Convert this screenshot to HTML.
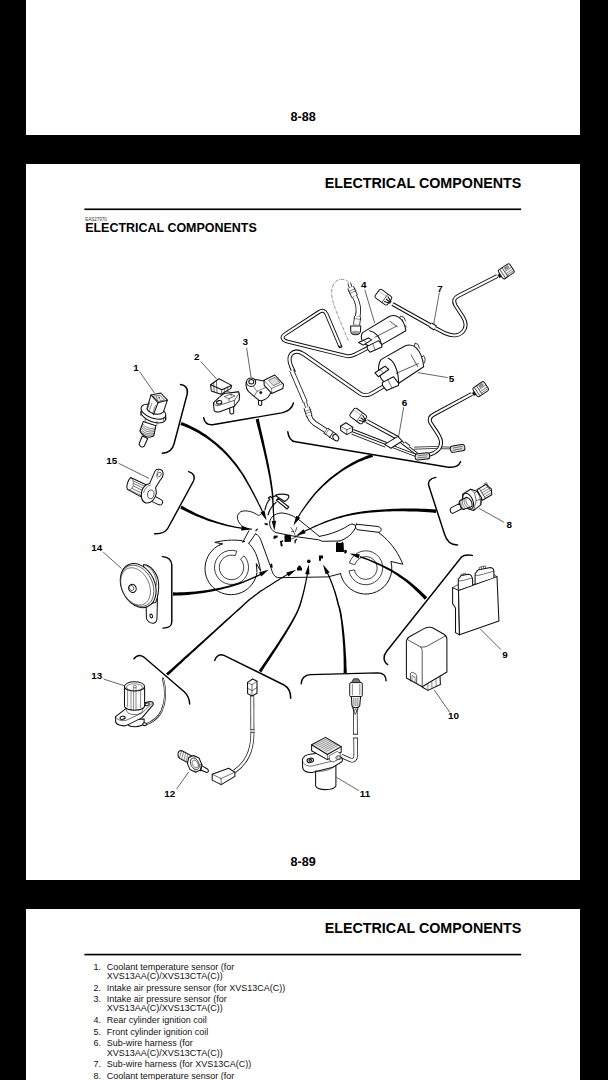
<!DOCTYPE html>
<html><head><meta charset="utf-8">
<style>
html,body{margin:0;padding:0;background:#000;}
body{width:608px;height:1080px;overflow:hidden;position:relative;font-family:"Liberation Sans",sans-serif;color:#000;}
.page{position:absolute;left:26px;width:554px;background:#fff;}
.t{position:absolute;white-space:nowrap;line-height:1;}
.hdr{font-weight:bold;font-size:14.3px;right:58.6px;}
.rule{position:absolute;left:58.4px;width:436.6px;height:1.8px;background:#000;}
.pn{font-weight:bold;font-size:12.6px;left:264.6px;}
.li{position:absolute;left:67.5px;font-size:9px;line-height:9.3px;white-space:nowrap;color:#111;}
.li b{position:absolute;left:0;font-weight:normal;}
.li span{position:absolute;left:13.3px;}
svg{position:absolute;left:0;top:0;}
.lb{font-family:"Liberation Sans",sans-serif;font-weight:bold;font-size:9.9px;fill:#000;text-anchor:middle;}
</style></head><body>
<div class="page" style="top:-582px;height:717px;">
  <div class="t pn" style="top:692.6px;">8-88</div>
</div>
<div class="page" style="top:163.5px;height:716.5px;">
  <div class="t hdr" style="top:12.6px;">ELECTRICAL COMPONENTS</div>
  <div class="t" style="left:59.2px;top:54px;font-size:4.5px;color:#333;">EAS27970</div>
  <div class="t" style="left:59.2px;top:58.5px;font-size:12.48px;font-weight:bold;">ELECTRICAL COMPONENTS</div>
  <div class="t pn" style="top:692.2px;">8-89</div>
</div>
<div class="page" style="top:908.8px;height:717px;">
  <div class="t hdr" style="top:12.6px;">ELECTRICAL COMPONENTS</div>
  <div class="li" style="top:53.8px;"><b>1.</b><span>Coolant temperature sensor (for<br>XVS13AA(C)/XVS13CTA(C))</span></div>
  <div class="li" style="top:75.3px;"><b>2.</b><span>Intake air pressure sensor (for XVS13CA(C))</span></div>
  <div class="li" style="top:86.4px;"><b>3.</b><span>Intake air pressure sensor (for<br>XVS13AA(C)/XVS13CTA(C))</span></div>
  <div class="li" style="top:107.3px;"><b>4.</b><span>Rear cylinder ignition coil</span></div>
  <div class="li" style="top:119.3px;"><b>5.</b><span>Front cylinder ignition coil</span></div>
  <div class="li" style="top:130.5px;"><b>6.</b><span>Sub-wire harness (for<br>XVS13AA(C)/XVS13CTA(C))</span></div>
  <div class="li" style="top:151.5px;"><b>7.</b><span>Sub-wire harness (for XVS13CA(C))</span></div>
  <div class="li" style="top:163.1px;"><b>8.</b><span>Coolant temperature sensor (for</span></div>
</div>
<svg width="608" height="1080" viewBox="0 0 608 1080">
<rect x="84.4" y="208.45" width="436.7" height="1.65" fill="#000"/>
<rect x="84.4" y="953.75" width="436.7" height="1.65" fill="#000"/>
<path d="M180.6,384.5 C185,385 188.5,388 187.2,394 L174,444 C172.5,450 169,453 162.3,453.2" fill="none" stroke="#000" stroke-width="1.45" stroke-linecap="round"/>
<path d="M203.7,417.8 C204.5,422.5 207,425 212.6,424.7 L281.7,412.9 C288,411.5 292,408.5 293.5,403" fill="none" stroke="#000" stroke-width="1.45" stroke-linecap="round"/>
<path d="M287.8,431.8 C288.5,437.5 290.5,441 295.5,441.8 L447,467 C454,468 458.5,467 460.5,461.8" fill="none" stroke="#000" stroke-width="1.45" stroke-linecap="round"/>
<path d="M435.8,477.4 C430,478.5 427.5,481.5 428.9,486 L444.5,534 C446.5,541 450,545 457.5,544.9" fill="none" stroke="#000" stroke-width="1.45" stroke-linecap="round"/>
<path d="M472.3,555.4 C467,554.5 464,554.5 461.5,557 L386.7,651.3 C383,656 383,661.5 387.7,664.7" fill="none" stroke="#000" stroke-width="1.45" stroke-linecap="round"/>
<path d="M301.2,683.7 C301.5,677.5 304.5,675 310.7,674.6 L377.8,672.9 C383.5,673 386,676 386,680.7" fill="none" stroke="#000" stroke-width="1.45" stroke-linecap="round"/>
<path d="M214.7,660.4 C216,656 219.5,653.5 224,655.3 L284,685 C288.5,687.5 290.7,692 290.7,698.3" fill="none" stroke="#000" stroke-width="1.45" stroke-linecap="round"/>
<path d="M133.9,658.7 C136.5,655.5 140,654.5 143.5,656.8 L184.5,692 C188,695.5 189.6,699 189.6,704.1" fill="none" stroke="#000" stroke-width="1.45" stroke-linecap="round"/>
<path d="M162.4,556.6 C168.5,557 171.5,559.5 171.8,565 L171.8,622 C171.5,626.5 169,628 163,628.1" fill="none" stroke="#000" stroke-width="1.45" stroke-linecap="round"/>
<path d="M188.7,471.6 C193,473 195.5,476 193.5,481 L168,528 C165.5,532.5 161,534 154.7,533.7" fill="none" stroke="#000" stroke-width="1.45" stroke-linecap="round"/>
<path d="M219.5,545 A26.2,26.2 0 1 0 257,572.5 L256.3,563.5 L260.6,571" fill="none" stroke="#111" stroke-width="1.0" stroke-linejoin="round" stroke-linecap="round" />
<path d="M244.4,556.1 A17.1,17.1 0 1 1 236.7,551.1 L235.3,555.7 A12.3,12.3 0 1 0 240.8,559.3Z" fill="#fff" stroke="#111" stroke-width="0.8" stroke-linejoin="round" stroke-linecap="round" />
<path d="M244.6,541.4 C238,539.4 226,539.6 214.8,542.4 L222.8,543.9 L219.3,545.1 M248.8,543.5 C254,548 258,556 260.6,571" fill="none" stroke="#111" stroke-width="1.0" stroke-linejoin="round" stroke-linecap="round" />
<path d="M248.8,530.9 L242.9,542 M255.5,533.8 L248.8,543.5 M242.9,542 L244.6,541.4" fill="none" stroke="#111" stroke-width="1.0" stroke-linejoin="round" stroke-linecap="round" />
<path d="M251.8,529.2 C246,528.6 241.5,526.6 239.4,523 C236.4,518.4 236.6,514.6 240.7,511.8 C244,510 250.6,511 255,513.4 C257,514.6 258.4,515.6 259.4,515.2 C261,514.4 262.4,513 263.4,511.6" fill="none" stroke="#111" stroke-width="1.0" stroke-linejoin="round" stroke-linecap="round" />
<path d="M255.5,533.8 C258.5,535 260,537.5 261,540.5 L271.2,568.4 C272.6,573 274,577.5 279,577.7 L328,576.9 L340.6,573.6" fill="none" stroke="#111" stroke-width="1.0" stroke-linejoin="round" stroke-linecap="round" />
<path d="M265,509.6 C266,505 267.6,501.4 269.8,499.4 L268.4,498 L270.4,496.4 L271.8,497.8 C272.6,497 274,496.4 275,496.2" fill="none" stroke="#111" stroke-width="1.25" stroke-linejoin="round" stroke-linecap="round" />
<path d="M275.4,495.4 C279,493.6 285,493.6 288.6,495.4 C289.6,497 287.6,500 284.6,501.4 L278.4,497.4Z" fill="none" stroke="#111" stroke-width="1.2" stroke-linejoin="round" stroke-linecap="round" />
<path d="M276.4,500.4 L287.2,509 L288.8,507 L278,498.4Z" fill="none" stroke="#111" stroke-width="1.2" stroke-linejoin="round" stroke-linecap="round" />
<path d="M268,515 C269.5,509.5 272.5,505 276,502.6" fill="none" stroke="#111" stroke-width="1.2" stroke-linejoin="round" stroke-linecap="round" />
<path d="M269.7,522 C270.4,517 274.5,513.6 281,513 C288,513 294.5,516.4 300,520.6 L319.4,536.4 M269.7,522 C269.2,526.4 271.4,530.6 276,532.6 L297,536.8 L318.6,539.8 L322.2,541.3 L339.8,541 " fill="none" stroke="#111" stroke-width="1.0" stroke-linejoin="round" stroke-linecap="round" />
<path d="M319.4,536.4 C328,535 338,531.5 345,527.6 C348,525.6 350.4,524.2 352,524 L355.3,525 C355.8,527 355.2,528.6 354.2,530 C351,535 346,539 339.8,541" fill="none" stroke="#111" stroke-width="1.0" stroke-linejoin="round" stroke-linecap="round" />
<path d="M356.4,524.2 L377,526.4 C380.4,527 381.6,528.4 381,530.4 C380.6,531.6 379.6,532.3 378.4,532.3 L358,529.8 C356.4,529.4 355.6,528.4 355.6,527 C355.6,525.6 355.8,524.6 356.4,524.2Z" fill="none" stroke="#111" stroke-width="1.0" stroke-linejoin="round" stroke-linecap="round" />
<path d="M378.4,532.3 C385,537 391,543.6 395.4,550 C398.4,554.6 401,559.6 402.8,564.3 L390.9,561.4 A25.9,25.9 0 0 1 344.4,582.6 C342.4,579.6 341.2,576.6 340.6,573.6" fill="none" stroke="#111" stroke-width="1.0" stroke-linejoin="round" stroke-linecap="round" />
<path d="M349.5,562.6 A17.0,17.0 0 1 1 349.0,570.9 L354.5,569.9 A11.4,11.4 0 1 0 354.9,564.4Z" fill="#fff" stroke="#111" stroke-width="0.8" stroke-linejoin="round" stroke-linecap="round" />
<path d="M336,543 L337.4,541.6 L338.2,543 L341.4,543 L342.2,541.6 L343.6,543 L344,552 L336,552Z" fill="#000"/>
<path d="M344.2,550.2 C345.6,549.2 347,550 346.9,551.6 C346.9,553.4 345.4,554 344.3,553.2Z" fill="#000"/>
<path d="M284.4,535.2 L290.8,534.8 L291,541.8 L284.6,542Z" fill="#000"/>
<path d="M273.6,535.8 L277.6,535.6 L277.6,537.8 L275.6,537.8 L275.4,539 L273.6,538.8Z" fill="#000"/>
<path d="M264.6,523 L268,523.4 L267.4,525.4 L264.4,524.2Z" fill="#000"/>
<path d="M280,541 L283,540.2 L283.4,541.6 L281.8,542 L282.8,546 L280.8,546.4Z" fill="#000"/>
<path d="M294.4,540.4 L296.6,538.6 L297.2,539.6 L295.8,541 L295.6,543.4 L294.6,543.2Z" fill="#000"/>
<path d="M319,555.6 L323,555.6 L323,558.4 L321,558.4 L321,560.8 L319,560.8Z" fill="#000"/>
<path d="M297,567.6 L298.2,567.6 L298.2,565.8 L300.8,565.8 L300.8,567.6 L302,567.6 L302,570.6 L297,570.6Z" fill="#000"/>
<path d="M270.2,564 L272,563.6 L272.8,567.6 L271.2,567.8Z" fill="#000"/>
<path d="M255.2,530.2 L257.6,528.2 L257.8,529.6 L256,531.4Z" fill="#000"/>
<circle cx="308.8" cy="561.4" r="1.8" fill="#000"/>
<path d="M291,527.6 L293.6,531.4 L295.2,535.6 M296.8,527.4 L295.4,531.6 M293.6,531.4 L291.4,531.8 M288.2,539.4 L293,538.6 L296,536.6 L299,535.4" fill="none" stroke="#111" stroke-width="0.7" stroke-linejoin="round" stroke-linecap="round" />
<path d="M180.4,425.0 L183.4,426.0 L186.4,427.2 L189.4,428.5 L192.4,429.9 L195.4,431.5 L198.4,433.1 L201.3,434.9 L204.3,436.8 L207.2,438.7 L210.1,440.8 L212.9,443.0 L215.8,445.3 L218.5,447.7 L221.3,450.2 L224.0,452.8 L226.6,455.5 L229.2,458.3 L231.7,461.2 L234.2,464.2 L236.6,467.2 L238.9,470.4 L241.1,473.6 L243.3,477.0 L245.3,480.4 L246.3,482.1 L247.3,483.9 L248.3,485.6 L249.3,487.3 L250.2,489.1 L251.2,490.8 L252.1,492.5 L253.0,494.3 L254.0,496.0 L254.9,497.7 L255.8,499.4 L256.6,501.1 L257.5,502.8 L258.3,504.5 L259.2,506.2 L260.0,507.8 L260.8,509.5 L261.6,511.2 L262.4,512.8 L263.4,512.3 L262.7,510.7 L261.9,509.0 L261.1,507.3 L260.3,505.6 L259.4,503.9 L258.6,502.2 L257.8,500.5 L256.9,498.8 L256.0,497.1 L255.2,495.4 L254.3,493.6 L253.4,491.9 L252.4,490.1 L251.5,488.4 L250.6,486.6 L249.6,484.9 L248.6,483.1 L247.7,481.4 L246.7,479.6 L244.7,476.1 L242.5,472.7 L240.3,469.4 L238.0,466.1 L235.7,463.0 L233.2,459.9 L230.7,457.0 L228.1,454.1 L225.5,451.3 L222.8,448.6 L220.0,446.1 L217.2,443.6 L214.4,441.2 L211.5,438.9 L208.6,436.7 L205.7,434.6 L202.7,432.7 L199.7,430.8 L196.7,429.1 L193.7,427.4 L190.6,425.9 L187.6,424.5 L184.6,423.2 L181.6,422.0Z" fill="#000"/>
<path d="M266.6,520.6 L260.4,512.4 L264.5,510.6Z" fill="#000"/>
<path d="M255.6,419.4 L256.3,422.0 L257.0,424.8 L257.7,427.6 L258.5,430.5 L259.2,433.5 L260.0,436.5 L260.7,439.6 L261.5,442.8 L262.3,446.0 L263.1,449.2 L263.9,452.5 L264.6,455.7 L265.4,459.1 L266.1,462.4 L266.8,465.7 L267.5,469.0 L268.2,472.4 L268.9,475.7 L269.5,479.0 L270.0,482.3 L270.5,485.5 L271.0,488.8 L271.5,491.9 L271.8,495.1 L271.9,496.5 L272.0,498.0 L272.1,499.5 L272.2,501.0 L272.3,502.5 L272.3,504.0 L272.4,505.5 L272.5,507.0 L272.6,508.5 L272.7,509.9 L272.8,511.4 L272.9,512.9 L273.0,514.4 L273.0,515.9 L273.1,517.4 L273.2,518.9 L273.3,520.4 L273.4,521.9 L274.5,521.8 L274.5,520.3 L274.4,518.8 L274.3,517.3 L274.3,515.9 L274.2,514.4 L274.1,512.9 L274.1,511.4 L274.0,509.9 L273.9,508.4 L273.9,506.9 L273.8,505.4 L273.8,503.9 L273.7,502.4 L273.6,500.9 L273.6,499.4 L273.5,497.9 L273.4,496.5 L273.4,494.9 L273.0,491.8 L272.7,488.5 L272.2,485.3 L271.8,482.0 L271.2,478.7 L270.7,475.4 L270.1,472.0 L269.5,468.7 L268.9,465.3 L268.2,461.9 L267.5,458.6 L266.8,455.3 L266.1,451.9 L265.4,448.7 L264.7,445.4 L264.0,442.2 L263.3,439.0 L262.6,435.9 L261.9,432.9 L261.2,429.9 L260.5,426.9 L259.9,424.1 L259.3,421.3 L258.8,418.6Z" fill="#000"/>
<path d="M274.4,530.8 L271.7,520.9 L276.1,520.7Z" fill="#000"/>
<path d="M372.0,454.0 L369.2,455.0 L366.3,456.0 L363.5,457.2 L360.6,458.5 L357.7,459.8 L354.8,461.3 L351.9,462.8 L349.1,464.5 L346.2,466.2 L343.4,468.0 L340.6,469.9 L337.9,471.9 L335.1,473.9 L332.5,476.0 L329.8,478.1 L327.3,480.3 L324.8,482.6 L322.3,484.9 L320.0,487.3 L317.7,489.7 L315.5,492.1 L313.4,494.6 L311.4,497.1 L309.4,499.6 L308.6,500.7 L307.7,501.8 L306.9,503.0 L306.1,504.1 L305.2,505.2 L304.4,506.4 L303.7,507.5 L302.9,508.6 L302.1,509.7 L301.4,510.8 L300.7,511.9 L299.9,513.0 L299.3,514.1 L298.6,515.2 L297.9,516.2 L297.3,517.3 L298.3,517.9 L298.9,516.8 L299.6,515.8 L300.2,514.7 L300.9,513.6 L301.6,512.6 L302.4,511.5 L303.1,510.4 L303.9,509.3 L304.7,508.2 L305.5,507.1 L306.3,506.0 L307.1,504.9 L308.0,503.8 L308.8,502.7 L309.7,501.5 L310.6,500.4 L312.5,498.0 L314.5,495.5 L316.6,493.1 L318.9,490.8 L321.1,488.4 L323.5,486.1 L326.0,483.9 L328.5,481.7 L331.0,479.6 L333.6,477.5 L336.3,475.5 L339.0,473.5 L341.8,471.6 L344.6,469.8 L347.4,468.1 L350.2,466.5 L353.0,464.9 L355.9,463.5 L358.8,462.1 L361.6,460.9 L364.5,459.7 L367.3,458.7 L370.1,457.8 L373.0,457.0Z" fill="#000"/>
<path d="M293.5,525.6 L296.2,515.7 L300.2,517.8Z" fill="#000"/>
<path d="M436.1,509.4 L432.2,509.2 L428.3,509.0 L424.4,508.8 L420.5,508.7 L416.5,508.6 L412.6,508.5 L408.7,508.5 L404.8,508.5 L401.0,508.6 L397.1,508.7 L393.3,508.8 L389.6,509.0 L385.9,509.2 L382.2,509.4 L378.6,509.7 L375.1,510.0 L371.6,510.3 L368.2,510.7 L364.9,511.1 L361.7,511.6 L358.6,512.1 L355.6,512.6 L352.6,513.1 L349.8,513.7 L347.3,514.3 L344.8,514.9 L342.4,515.6 L339.9,516.3 L337.5,517.0 L335.1,517.8 L332.8,518.6 L330.4,519.4 L328.1,520.2 L325.8,521.1 L323.5,522.0 L321.2,522.9 L319.0,523.9 L316.7,524.9 L314.5,525.8 L312.3,526.9 L310.2,527.9 L308.0,528.9 L305.9,530.0 L303.8,531.1 L304.3,532.1 L306.4,531.0 L308.6,530.0 L310.7,529.0 L312.9,528.0 L315.1,527.0 L317.3,526.1 L319.5,525.1 L321.7,524.2 L324.0,523.3 L326.3,522.5 L328.6,521.6 L330.9,520.8 L333.3,520.1 L335.6,519.3 L338.0,518.6 L340.4,517.9 L342.8,517.2 L345.3,516.6 L347.7,516.0 L350.2,515.5 L353.0,515.0 L355.9,514.5 L358.9,514.0 L362.0,513.6 L365.2,513.2 L368.5,512.8 L371.8,512.5 L375.3,512.2 L378.8,512.0 L382.4,511.8 L386.0,511.6 L389.7,511.4 L393.4,511.3 L397.2,511.3 L401.0,511.3 L404.8,511.3 L408.7,511.4 L412.5,511.5 L416.4,511.6 L420.3,511.8 L424.2,512.0 L428.1,512.3 L432.0,512.6 L435.9,513.0Z" fill="#000"/>
<path d="M295.8,536.0 L303.6,529.3 L305.7,533.3Z" fill="#000"/>
<path d="M427.3,597.2 L425.2,595.2 L423.1,593.2 L421.0,591.2 L418.8,589.2 L416.5,587.2 L414.2,585.2 L411.8,583.2 L409.3,581.2 L406.7,579.3 L404.1,577.4 L401.2,575.4 L398.3,573.5 L395.2,571.7 L392.0,569.8 L388.7,568.0 L385.1,566.2 L381.4,564.4 L377.5,562.7 L373.4,561.0 L369.1,559.3 L364.6,557.6 L359.9,556.0 L359.5,557.2 L364.2,558.9 L368.6,560.6 L372.8,562.4 L376.8,564.2 L380.6,566.0 L384.3,567.9 L387.7,569.7 L391.0,571.6 L394.1,573.5 L397.1,575.4 L399.9,577.4 L402.6,579.3 L405.2,581.3 L407.7,583.3 L410.1,585.3 L412.3,587.3 L414.6,589.4 L416.7,591.4 L418.8,593.5 L420.8,595.5 L422.8,597.6 L424.7,599.8Z" fill="#000"/>
<path d="M349.6,553.4 L359.8,554.2 L358.5,558.5Z" fill="#000"/>
<path d="M346.8,673.0 L346.6,668.9 L346.4,664.8 L346.3,660.8 L346.1,656.8 L345.8,652.9 L345.6,649.1 L345.3,645.4 L345.0,641.7 L344.7,638.2 L344.4,634.8 L344.0,631.5 L343.7,628.4 L343.3,625.4 L342.9,622.6 L342.5,619.9 L342.1,617.4 L341.8,615.1 L341.4,612.9 L341.0,611.0 L340.6,609.3 L340.2,607.8 L339.8,606.5 L339.5,605.5 L339.1,604.8 L338.7,603.0 L338.2,601.1 L337.8,599.3 L337.3,597.5 L336.8,595.7 L336.2,593.9 L335.7,592.1 L335.1,590.4 L334.5,588.7 L333.9,587.0 L333.3,585.3 L332.6,583.6 L332.0,581.9 L331.3,580.2 L330.6,578.6 L329.9,577.0 L329.1,575.3 L328.4,573.7 L327.6,572.1 L326.6,572.6 L327.4,574.2 L328.1,575.8 L328.8,577.4 L329.5,579.1 L330.2,580.7 L330.8,582.4 L331.5,584.0 L332.1,585.7 L332.7,587.4 L333.2,589.1 L333.8,590.8 L334.3,592.6 L334.9,594.3 L335.4,596.1 L335.9,597.9 L336.3,599.7 L336.8,601.5 L337.2,603.3 L337.7,605.2 L338.0,606.0 L338.3,607.0 L338.7,608.2 L339.0,609.7 L339.3,611.3 L339.7,613.2 L340.1,615.4 L340.4,617.7 L340.8,620.1 L341.1,622.8 L341.4,625.6 L341.7,628.6 L342.0,631.7 L342.3,635.0 L342.6,638.4 L342.8,641.9 L343.1,645.5 L343.3,649.2 L343.4,653.0 L343.6,656.9 L343.6,660.9 L343.7,664.9 L343.7,668.9 L343.6,673.0Z" fill="#000"/>
<path d="M323.0,564.4 L329.6,572.2 L325.6,574.3Z" fill="#000"/>
<path d="M261.3,672.4 L263.4,669.0 L265.6,665.6 L267.8,662.3 L270.0,659.0 L272.1,655.7 L274.2,652.4 L276.3,649.2 L278.4,646.0 L280.4,642.8 L282.3,639.7 L284.2,636.7 L286.1,633.7 L287.8,630.8 L289.5,628.0 L291.1,625.2 L292.6,622.6 L294.0,620.0 L295.3,617.5 L296.5,615.2 L297.6,612.9 L298.6,610.8 L299.4,608.8 L300.1,607.0 L300.7,605.2 L301.2,603.6 L301.7,601.9 L302.1,600.3 L302.6,598.6 L303.0,596.9 L303.5,595.3 L303.9,593.6 L304.3,591.9 L304.7,590.2 L305.1,588.5 L305.5,586.8 L305.8,585.1 L306.2,583.3 L306.5,581.6 L306.9,579.9 L307.2,578.2 L307.5,576.5 L307.8,574.7 L308.1,573.0 L307.0,572.8 L306.7,574.6 L306.4,576.3 L306.0,578.0 L305.7,579.7 L305.4,581.4 L305.0,583.1 L304.6,584.8 L304.2,586.5 L303.9,588.2 L303.4,589.9 L303.0,591.6 L302.6,593.2 L302.2,594.9 L301.7,596.6 L301.3,598.2 L300.8,599.9 L300.3,601.5 L299.8,603.2 L299.3,604.8 L298.7,606.4 L298.0,608.2 L297.2,610.2 L296.2,612.3 L295.1,614.5 L293.9,616.8 L292.5,619.2 L291.1,621.7 L289.6,624.3 L287.9,627.0 L286.2,629.8 L284.4,632.7 L282.6,635.6 L280.6,638.6 L278.6,641.7 L276.6,644.8 L274.5,647.9 L272.3,651.1 L270.1,654.3 L267.9,657.6 L265.7,660.8 L263.4,664.1 L261.1,667.4 L258.7,670.6Z" fill="#000"/>
<path d="M308.8,564.4 L309.5,574.6 L305.1,574.0Z" fill="#000"/>
<path d="M168.0,675.6 L171.3,672.4 L174.7,669.2 L178.1,666.1 L181.5,662.9 L184.8,659.8 L188.2,656.7 L191.6,653.6 L195.0,650.4 L198.4,647.3 L201.8,644.2 L205.2,641.1 L208.6,637.9 L212.0,634.8 L215.4,631.7 L218.8,628.6 L222.2,625.5 L225.6,622.3 L229.0,619.2 L232.4,616.1 L235.8,613.0 L239.2,609.9 L242.7,606.7 L246.1,603.6 L249.5,600.5 L249.9,600.2 L250.3,599.8 L250.8,599.5 L251.2,599.1 L251.7,598.8 L252.2,598.4 L252.6,598.1 L253.1,597.7 L253.5,597.4 L254.0,597.0 L254.4,596.7 L254.9,596.3 L255.4,596.0 L255.8,595.6 L256.3,595.3 L256.7,594.9 L257.2,594.6 L257.6,594.2 L258.1,593.9 L258.6,593.5 L259.0,593.2 L259.5,592.8 L259.9,592.5 L260.4,592.1 L261.8,591.2 L263.3,590.2 L264.8,589.3 L266.3,588.3 L267.8,587.3 L269.3,586.4 L270.8,585.4 L272.3,584.4 L273.8,583.5 L275.3,582.5 L276.8,581.6 L278.3,580.7 L279.8,579.7 L281.3,578.8 L282.8,577.9 L284.3,577.0 L285.8,576.1 L287.3,575.2 L288.9,574.3 L288.3,573.4 L286.8,574.3 L285.3,575.2 L283.8,576.1 L282.3,576.9 L280.8,577.9 L279.2,578.8 L277.7,579.7 L276.2,580.6 L274.7,581.6 L273.2,582.5 L271.7,583.5 L270.2,584.4 L268.7,585.4 L267.2,586.3 L265.7,587.3 L264.2,588.2 L262.7,589.2 L261.2,590.1 L259.6,591.1 L259.2,591.4 L258.7,591.8 L258.2,592.1 L257.8,592.5 L257.3,592.8 L256.9,593.2 L256.4,593.5 L255.9,593.9 L255.5,594.2 L255.0,594.6 L254.6,594.9 L254.1,595.3 L253.6,595.6 L253.2,596.0 L252.7,596.3 L252.3,596.7 L251.8,597.0 L251.3,597.4 L250.9,597.7 L250.4,598.1 L250.0,598.4 L249.5,598.8 L249.0,599.1 L248.5,599.5 L245.1,602.6 L241.7,605.7 L238.3,608.8 L234.8,611.9 L231.4,614.9 L228.0,618.0 L224.5,621.1 L221.1,624.2 L217.7,627.3 L214.2,630.4 L210.8,633.5 L207.4,636.6 L203.9,639.7 L200.5,642.7 L197.1,645.8 L193.6,648.9 L190.2,652.0 L186.8,655.1 L183.3,658.1 L179.9,661.2 L176.4,664.3 L173.0,667.4 L169.5,670.4 L166.0,673.4Z" fill="#000"/>
<path d="M296.2,569.8 L288.5,576.5 L286.3,572.6Z" fill="#000"/>
<path d="M173.0,595.7 L176.5,595.6 L180.1,595.4 L183.8,595.2 L187.6,594.9 L191.5,594.5 L195.4,594.1 L199.5,593.6 L203.6,593.0 L207.8,592.3 L212.0,591.5 L216.2,590.6 L220.4,589.7 L224.7,588.6 L229.0,587.5 L233.2,586.2 L237.4,584.9 L241.6,583.4 L245.7,581.8 L249.8,580.1 L253.9,578.3 L257.8,576.4 L261.7,574.4 L261.1,573.4 L257.2,575.3 L253.3,577.1 L249.3,578.8 L245.2,580.4 L241.1,581.9 L236.9,583.3 L232.7,584.5 L228.5,585.7 L224.2,586.7 L220.0,587.7 L215.8,588.6 L211.6,589.3 L207.4,590.0 L203.3,590.6 L199.2,591.1 L195.2,591.5 L191.2,591.8 L187.4,592.1 L183.6,592.2 L180.0,592.3 L176.4,592.4 L173.0,592.3Z" fill="#000"/>
<path d="M268.8,569.5 L261.3,576.5 L259.0,572.6Z" fill="#000"/>
<path d="M180.2,508.4 L182.7,509.7 L185.2,511.0 L187.8,512.3 L190.4,513.5 L193.1,514.7 L195.8,515.9 L198.6,517.1 L201.4,518.2 L204.3,519.3 L207.2,520.4 L210.1,521.4 L213.1,522.3 L216.1,523.3 L219.2,524.1 L222.3,525.0 L225.4,525.8 L228.5,526.5 L231.7,527.1 L234.9,527.8 L238.1,528.3 L241.3,528.8 L241.5,527.6 L238.3,527.0 L235.2,526.4 L232.0,525.7 L228.9,525.0 L225.8,524.2 L222.7,523.3 L219.7,522.4 L216.7,521.5 L213.7,520.5 L210.8,519.5 L207.9,518.4 L205.0,517.3 L202.3,516.1 L199.5,514.9 L196.8,513.7 L194.2,512.4 L191.6,511.1 L189.0,509.8 L186.6,508.4 L184.1,507.0 L181.8,505.6Z" fill="#000"/>
<path d="M251.2,529.4 L241.0,530.4 L241.5,525.9Z" fill="#000"/>
<text x="136" y="371.0" class="lb">1</text>
<text x="196.8" y="360.3" class="lb">2</text>
<text x="245.2" y="345.3" class="lb">3</text>
<text x="363.8" y="287.9" class="lb">4</text>
<text x="451.5" y="382.3" class="lb">5</text>
<text x="404.5" y="405.5" class="lb">6</text>
<text x="440" y="291.5" class="lb">7</text>
<text x="509.2" y="528.3000000000001" class="lb">8</text>
<text x="504.9" y="657.7" class="lb">9</text>
<text x="453.4" y="719.2" class="lb">10</text>
<text x="365" y="796.5" class="lb">11</text>
<text x="169.7" y="796.7" class="lb">12</text>
<text x="96.8" y="679.1" class="lb">13</text>
<text x="96.8" y="551.0" class="lb">14</text>
<text x="111.7" y="463.9" class="lb">15</text>
<path d="M139.6,371.7 L154.4,393" stroke="#222" stroke-width="0.7" fill="none"/>
<path d="M200.8,361.6 L216.6,379" stroke="#222" stroke-width="0.7" fill="none"/>
<path d="M246.6,347.8 L251.1,377.4" stroke="#222" stroke-width="0.7" fill="none"/>
<path d="M364.8,289.7 L374.7,323.2" stroke="#222" stroke-width="0.7" fill="none"/>
<path d="M418,372.6 L447.6,377.6" stroke="#222" stroke-width="0.7" fill="none"/>
<path d="M403.7,407.1 L398.5,437.3" stroke="#222" stroke-width="0.7" fill="none"/>
<path d="M439.3,292.7 L433.7,324.3" stroke="#222" stroke-width="0.7" fill="none"/>
<path d="M479.2,508.4 L503.9,522.2" stroke="#222" stroke-width="0.7" fill="none"/>
<path d="M480.2,628.9 L500.9,649.6" stroke="#222" stroke-width="0.7" fill="none"/>
<path d="M434.1,689.8 L449.9,712.5" stroke="#222" stroke-width="0.7" fill="none"/>
<path d="M336.3,777.2 L359,790.7" stroke="#222" stroke-width="0.7" fill="none"/>
<path d="M176.6,789 L188.5,772.2" stroke="#222" stroke-width="0.7" fill="none"/>
<path d="M103.7,679.1 L124.5,685.8" stroke="#222" stroke-width="0.7" fill="none"/>
<path d="M103.2,552.1 L121.5,568.5" stroke="#222" stroke-width="0.7" fill="none"/>
<path d="M118.6,463.3 L149.2,478.5" stroke="#222" stroke-width="0.7" fill="none"/>
<path d="M368,347.8 L356,354 C352,356.3 350,356.8 346,355.9 L287.5,341.6 C281.5,340 281,336.5 285.5,333.8 L319,312 C322.5,309.8 324.8,310.5 326.5,314 L340.3,346.5" fill="none" stroke="#111" stroke-width="3.9" stroke-linecap="butt" stroke-linejoin="round" />
<path d="M368,347.8 L356,354 C352,356.3 350,356.8 346,355.9 L287.5,341.6 C281.5,340 281,336.5 285.5,333.8 L319,312 C322.5,309.8 324.8,310.5 326.5,314 L340.3,346.5" fill="none" stroke="#fff" stroke-width="2.0" stroke-linecap="butt" stroke-linejoin="round" />
<ellipse cx="340.6" cy="346.8" rx="1.5" ry="0.8" fill="#fff" stroke="#111" stroke-width="1.05" transform="rotate(-20 340.6 346.8)"/>
<path d="M348.8,282.3 C345,278.5 338,278 334.5,283 C330,289 331.5,298 334,305 C337,314 343,328 348.6,341" fill="none" stroke="#333" stroke-width="0.55" stroke-dasharray="3.2 0.9 0.7 0.9"/>
<path d="M349.2,283.2 L350.8,287.8" fill="none" stroke="#111" stroke-width="3.6" stroke-linecap="butt" stroke-linejoin="round" />
<path d="M349.2,283.2 L350.8,287.8" fill="none" stroke="#fff" stroke-width="2.0" stroke-linecap="butt" stroke-linejoin="round" />
<path d="M350.6,287.4 L354.6,296.4" fill="none" stroke="#111" stroke-width="7.0" stroke-linecap="butt" stroke-linejoin="round" />
<path d="M350.6,287.4 L354.6,296.4" fill="none" stroke="#fff" stroke-width="5.2" stroke-linecap="butt" stroke-linejoin="round" />
<path d="M348.6,291.6 L355.2,288.6 M349.6,293.6 L356.2,290.6" fill="none" stroke="#111" stroke-width="0.5" stroke-linejoin="round" stroke-linecap="round" />
<path d="M354.4,296 C358.4,303 359.2,310 357.6,317" fill="none" stroke="#111" stroke-width="5.4" stroke-linecap="butt" stroke-linejoin="round" />
<path d="M354.4,296 C358.4,303 359.2,310 357.6,317" fill="none" stroke="#fff" stroke-width="3.7" stroke-linecap="butt" stroke-linejoin="round" />
<path d="M357.6,316.4 L356.6,324.8" fill="none" stroke="#111" stroke-width="7.0" stroke-linecap="butt" stroke-linejoin="round" />
<path d="M357.6,316.4 L356.6,324.8" fill="none" stroke="#fff" stroke-width="5.4" stroke-linecap="butt" stroke-linejoin="round" />
<path d="M354.2,318.6 L361,319.4" fill="none" stroke="#111" stroke-width="0.5" stroke-linejoin="round" stroke-linecap="round" />
<path d="M350.6,326 L360.8,326 L360.4,331.6 C359,335.8 352,335.8 350.8,331.6Z" fill="#fff" stroke="#111" stroke-width="1.05" stroke-linejoin="round" stroke-linecap="round" />
<path d="M351.4,331.8 C353,335 358.4,335 359.8,331.8 C357,330.4 354,330.4 351.4,331.8Z" fill="#999"/>
<path d="M385.5,385.3 L372,393.2 C367,396.2 364,396 360,393.5 L303.5,354 C298.5,350.8 294,351 291.3,354 C288.6,357 289,361 291,366 L294,372.5" fill="none" stroke="#111" stroke-width="4.2" stroke-linecap="butt" stroke-linejoin="round" />
<path d="M385.5,385.3 L372,393.2 C367,396.2 364,396 360,393.5 L303.5,354 C298.5,350.8 294,351 291.3,354 C288.6,357 289,361 291,366 L294,372.5" fill="none" stroke="#fff" stroke-width="2.2" stroke-linecap="butt" stroke-linejoin="round" />
<path d="M291.6,370.4 L305.4,402.4" fill="none" stroke="#111" stroke-width="4.9" stroke-linecap="butt" stroke-linejoin="round" />
<path d="M291.6,370.4 L305.4,402.4" fill="none" stroke="#fff" stroke-width="3.3" stroke-linecap="butt" stroke-linejoin="round" />
<path d="M305.2,402 L307,408" fill="none" stroke="#111" stroke-width="3.4" stroke-linecap="butt" stroke-linejoin="round" />
<path d="M305.2,402 L307,408" fill="none" stroke="#fff" stroke-width="2.0" stroke-linecap="butt" stroke-linejoin="round" />
<path d="M306.6,407.4 L309.4,416.4" fill="none" stroke="#111" stroke-width="6.4" stroke-linecap="butt" stroke-linejoin="round" />
<path d="M306.6,407.4 L309.4,416.4" fill="none" stroke="#fff" stroke-width="4.8" stroke-linecap="butt" stroke-linejoin="round" />
<path d="M304.6,411.4 L311,409.4 M305.4,413.6 L311.8,411.6" fill="none" stroke="#111" stroke-width="0.5" stroke-linejoin="round" stroke-linecap="round" />
<path d="M309,415.6 C310,419 311.5,421 314.5,423.2 L326.5,431" fill="none" stroke="#111" stroke-width="5.3" stroke-linecap="butt" stroke-linejoin="round" />
<path d="M309,415.6 C310,419 311.5,421 314.5,423.2 L326.5,431" fill="none" stroke="#fff" stroke-width="3.7" stroke-linecap="butt" stroke-linejoin="round" />
<path d="M326,430.6 L335.2,437.2" fill="none" stroke="#111" stroke-width="7.0" stroke-linecap="butt" stroke-linejoin="round" />
<path d="M326,430.6 L335.2,437.2" fill="none" stroke="#fff" stroke-width="5.4" stroke-linecap="butt" stroke-linejoin="round" />
<path d="M327.4,428.4 L323.6,433.6 M329,429.4 L325.2,434.6" fill="none" stroke="#111" stroke-width="0.5" stroke-linejoin="round" stroke-linecap="round" />
<ellipse cx="335.8" cy="437.6" rx="2.6" ry="3.5" fill="#fff" stroke="#111" stroke-width="1.05" transform="rotate(-35 335.8 437.6)"/>
<path d="M333,432.4 L329.4,437.6" fill="none" stroke="#111" stroke-width="1.0" stroke-linejoin="round" stroke-linecap="round" />
<path d="M399,319 L400.6,316 L404,317.4 L405.4,321 M402,319.4 L403.4,323.4 L406.4,327" fill="none" stroke="#111" stroke-width="0.8" stroke-linejoin="round" stroke-linecap="round" />
<path d="M362.5,332.6 L388.8,316.8 C392,315 396,315.2 399,317.4 C402.6,320 405,324.6 405.9,330.7 L380.9,345.1 C374,348.4 366,346.4 362.6,341.4 C360.8,338 361,335 362.5,332.6Z" fill="#fff" stroke="#111" stroke-width="1.05" stroke-linejoin="round" stroke-linecap="round" />
<path d="M369.7,330.7 C375.4,332 380.4,337.4 381.6,344.6" fill="none" stroke="#111" stroke-width="1.05" stroke-linejoin="round" stroke-linecap="round" />
<path d="M375,337.2 L396.7,326.1 M390.1,321.4 L397.4,326.7" fill="none" stroke="#111" stroke-width="0.7" stroke-linejoin="round" stroke-linecap="round" />
<path d="M358.6,342.5 L368.4,337.9 L371.7,339.9 L363.2,345.1Z" fill="#fff" stroke="#111" stroke-width="1.05" stroke-linejoin="round" stroke-linecap="round" />
<path d="M363.4,340.3 L366.6,342.6" fill="none" stroke="#111" stroke-width="0.6" stroke-linejoin="round" stroke-linecap="round" />
<path d="M367.1,346.4 L378.6,340.6 L381.6,344.5 L382.0,347.0 L370.0,352.2 L367.4,349.0Z" fill="#fff" stroke="#111" stroke-width="1.05" stroke-linejoin="round" stroke-linecap="round" />
<path d="M372.6,343.6 L375.2,349.8" fill="none" stroke="#111" stroke-width="0.6" stroke-linejoin="round" stroke-linecap="round" />
<path d="M414.4,346.4 L415,343 L418,344.4 L419.4,348.4 M421,357.6 L423.6,355.6 L425.2,359 L424.6,363" fill="none" stroke="#111" stroke-width="0.8" stroke-linejoin="round" stroke-linecap="round" />
<path d="M380.9,359.6 L405.3,345.8 C409,344.4 413,345 416,347.6 C420.4,352 423,359 423.7,366.8 L398.7,383.3 C391,387 382.4,383.4 379.4,375 C377.8,370 378.4,363.4 380.9,359.6Z" fill="#fff" stroke="#111" stroke-width="1.05" stroke-linejoin="round" stroke-linecap="round" />
<path d="M388.2,358.3 C394.4,361 398.4,371 398.7,383.3" fill="none" stroke="#111" stroke-width="1.05" stroke-linejoin="round" stroke-linecap="round" />
<path d="M396.1,373.4 L418.4,363.6 M411.2,355 L417.8,366.8" fill="none" stroke="#111" stroke-width="0.7" stroke-linejoin="round" stroke-linecap="round" />
<path d="M375.0,372.8 L384.9,366.2 L388.8,369.5 L378.3,376.7Z" fill="#fff" stroke="#111" stroke-width="1.05" stroke-linejoin="round" stroke-linecap="round" />
<path d="M380,369.6 L383.4,373" fill="none" stroke="#111" stroke-width="0.6" stroke-linejoin="round" stroke-linecap="round" />
<path d="M382.2,382.6 L393.4,376.7 L398.7,383.3 L398.4,385.6 L386.4,390.4 L382.6,385.6Z" fill="#fff" stroke="#111" stroke-width="1.05" stroke-linejoin="round" stroke-linecap="round" />
<path d="M387.8,379.6 L391.8,387.6" fill="none" stroke="#111" stroke-width="0.6" stroke-linejoin="round" stroke-linecap="round" />
<path d="M392.5,304 L431,325.6" fill="none" stroke="#111" stroke-width="4.2" stroke-linecap="butt" stroke-linejoin="round" />
<path d="M392.5,304 L431,325.6" fill="none" stroke="#fff" stroke-width="2.0" stroke-linecap="butt" stroke-linejoin="round" />
<path d="M430.4,325 L435.4,328" fill="none" stroke="#111" stroke-width="5.6" stroke-linecap="butt" stroke-linejoin="round" />
<path d="M430.4,325 L435.4,328" fill="none" stroke="#fff" stroke-width="3.6" stroke-linecap="butt" stroke-linejoin="round" />
<path d="M434.8,327.8 L445,333.2 C452,336.3 459,336 463,331.5 C467,327 466,322 463,317 L455.5,305.5 C453,301 454,298 458,296 L497.4,276" fill="none" stroke="#111" stroke-width="4.1" stroke-linecap="butt" stroke-linejoin="round" />
<path d="M434.8,327.8 L445,333.2 C452,336.3 459,336 463,331.5 C467,327 466,322 463,317 L455.5,305.5 C453,301 454,298 458,296 L497.4,276" fill="none" stroke="#fff" stroke-width="2.0" stroke-linecap="butt" stroke-linejoin="round" />
<g transform="translate(383.4 297.2) rotate(36)">
<rect x="-7.6" y="-5.2" width="15.2" height="10.4" rx="2" fill="#fff" stroke="#111" stroke-width="0.95"/>
<path d="M1.8239999999999998,-5.2 L1.8239999999999998,5.2" stroke="#111" stroke-width="0.6" fill="none"/>
<path d="M-6.6,-2.2880000000000003 L1.8239999999999998,-2.2880000000000003" stroke="#555" stroke-width="0.4" fill="none"/>
<path d="M3.04,-3.12 L9.1,-0.8 M3.04,0 L9.1,0 M3.04,3.12 L9.1,0.8" stroke="#111" stroke-width="1.1" fill="none"/>
</g>
<g transform="translate(506.3 271.3) rotate(-34)">
<path d="M-9.4,-1.6 L-6.3,-2.4 L-6.3,2.4 L-9.4,1.6Z" fill="#111"/>
<rect x="-6.8" y="-5.3" width="13.6" height="10.6" rx="1.8" fill="#f4f4f4" stroke="#111" stroke-width="0.95"/>
<path d="M-1.632,-5.3 L-1.632,5.3 M-4.352,-5.3 L-4.352,5.3" stroke="#111" stroke-width="0.6" fill="none"/>
<path d="M-1.632,-0.53 L6.8,-0.53 M-1.632,1.802 L6.8,1.802 M-1.632,3.604 L6.8,3.604" stroke="#333" stroke-width="0.5" fill="none"/>
<rect x="0.272" y="-4.028" width="4.08" height="2.332" fill="#999" stroke="#333" stroke-width="0.4"/>
</g>
<path d="M366.5,421 L398,438.2" fill="none" stroke="#111" stroke-width="4.2" stroke-linecap="butt" stroke-linejoin="round" />
<path d="M366.5,421 L398,438.2" fill="none" stroke="#fff" stroke-width="2.0" stroke-linecap="butt" stroke-linejoin="round" />
<path d="M352.5,431.8 L386,444.8" fill="none" stroke="#111" stroke-width="5.8" stroke-linecap="butt" stroke-linejoin="round" />
<path d="M352.5,431.8 L386,444.8" fill="none" stroke="#fff" stroke-width="4.0" stroke-linecap="butt" stroke-linejoin="round" />
<path d="M353,432 L386.2,444.6" fill="none" stroke="#111" stroke-width="1.0" stroke-linejoin="round" stroke-linecap="round" />
<path d="M414,448.1 C425,447.5 438,447.5 451,448" fill="none" stroke="#111" stroke-width="2.6" stroke-linecap="butt" stroke-linejoin="round" />
<path d="M414,448.1 C425,447.5 438,447.5 451,448" fill="none" stroke="#fff" stroke-width="1.1" stroke-linecap="butt" stroke-linejoin="round" />
<path d="M399,440.2 L417,454" fill="none" stroke="#111" stroke-width="3.0" stroke-linecap="butt" stroke-linejoin="round" />
<path d="M399,440.2 L417,454" fill="none" stroke="#fff" stroke-width="1.4" stroke-linecap="butt" stroke-linejoin="round" />
<path d="M393,446.6 C400,449.4 408,452.4 416.5,455.6" fill="none" stroke="#111" stroke-width="3.0" stroke-linecap="butt" stroke-linejoin="round" />
<path d="M393,446.6 C400,449.4 408,452.4 416.5,455.6" fill="none" stroke="#fff" stroke-width="1.4" stroke-linecap="butt" stroke-linejoin="round" />
<path d="M404,443.2 L409,447" fill="none" stroke="#111" stroke-width="4.2" stroke-linecap="butt" stroke-linejoin="round" />
<path d="M404,443.2 L409,447" fill="none" stroke="#fff" stroke-width="2.6" stroke-linecap="butt" stroke-linejoin="round" />
<path d="M384.8,444.4 L397.8,436.4 L402.3,441.0 L391.0,448.2Z" fill="#fff" stroke="#111" stroke-width="1.05" stroke-linejoin="round" stroke-linecap="round" />
<path d="M429,454.8 C436.5,453 441.5,448 441,441.5 C440.4,435.5 433.5,428 430.4,422.6 C428.6,418.8 430.2,416.4 434,414.4 L471.8,394" fill="none" stroke="#111" stroke-width="4.1" stroke-linecap="butt" stroke-linejoin="round" />
<path d="M429,454.8 C436.5,453 441.5,448 441,441.5 C440.4,435.5 433.5,428 430.4,422.6 C428.6,418.8 430.2,416.4 434,414.4 L471.8,394" fill="none" stroke="#fff" stroke-width="2.0" stroke-linecap="butt" stroke-linejoin="round" />
<g transform="translate(422.4 456.4) rotate(-6)">
<rect x="-7.3" y="-3.2" width="14.6" height="6.4" rx="2.6" fill="#dcdcdc" stroke="#111" stroke-width="1.0"/>
<path d="M-4.38,-1.152 L5.255999999999999,-1.152 M-5.255999999999999,1.024 L4.38,1.024" stroke="#333" stroke-width="0.6" fill="none"/>
</g>
<g transform="translate(457.6 448.4) rotate(-10)">
<rect x="-7.3" y="-3.2" width="14.6" height="6.4" rx="2.6" fill="#dcdcdc" stroke="#111" stroke-width="1.0"/>
<path d="M-4.38,-1.152 L5.255999999999999,-1.152 M-5.255999999999999,1.024 L4.38,1.024" stroke="#333" stroke-width="0.6" fill="none"/>
</g>
<g transform="translate(358.2 416) rotate(36)">
<rect x="-7.6" y="-5.2" width="15.2" height="10.4" rx="2" fill="#fff" stroke="#111" stroke-width="0.95"/>
<path d="M1.8239999999999998,-5.2 L1.8239999999999998,5.2" stroke="#111" stroke-width="0.6" fill="none"/>
<path d="M-6.6,-2.2880000000000003 L1.8239999999999998,-2.2880000000000003" stroke="#555" stroke-width="0.4" fill="none"/>
<path d="M3.04,-3.12 L9.1,-0.8 M3.04,0 L9.1,0 M3.04,3.12 L9.1,0.8" stroke="#111" stroke-width="1.1" fill="none"/>
</g>
<path d="M340.4,426.2 L345.9,422.7 L352.8,427.1 L352.3,431.6 L346.8,434.6 L340.9,430.6Z" fill="#fff" stroke="#111" stroke-width="1.05" stroke-linejoin="round" stroke-linecap="round" />
<path d="M340.4,426.2 L346.8,429.8 L352.8,427.1 M346.8,429.8 L346.8,434.6" fill="none" stroke="#111" stroke-width="0.6" stroke-linejoin="round" stroke-linecap="round" />
<g transform="translate(480.7 389.2) rotate(-34)">
<path d="M-9.4,-1.6 L-6.3,-2.4 L-6.3,2.4 L-9.4,1.6Z" fill="#111"/>
<rect x="-6.8" y="-5.3" width="13.6" height="10.6" rx="1.8" fill="#f4f4f4" stroke="#111" stroke-width="0.95"/>
<path d="M-1.632,-5.3 L-1.632,5.3 M-4.352,-5.3 L-4.352,5.3" stroke="#111" stroke-width="0.6" fill="none"/>
<path d="M-1.632,-0.53 L6.8,-0.53 M-1.632,1.802 L6.8,1.802 M-1.632,3.604 L6.8,3.604" stroke="#333" stroke-width="0.5" fill="none"/>
<rect x="0.272" y="-4.028" width="4.08" height="2.332" fill="#999" stroke="#333" stroke-width="0.4"/>
</g>
<path d="M142.3,436 L139,444.2 C139.6,446.8 142.6,447.6 144.2,446.2 L147.7,438.5Z" fill="#fff" stroke="#111" stroke-width="1.05" stroke-linejoin="round" stroke-linecap="round" />
<path d="M143.2,421.6 L139.9,431 C141.4,435 146.6,437.8 150.4,437 C152.4,436.6 153.4,436 153.8,435.6 L155.9,425.7Z" fill="#fff" stroke="#111" stroke-width="1.05" stroke-linejoin="round" stroke-linecap="round" />
<path d="M142.4,423.6 C145,427.6 150.6,429.6 155.4,427.8 M141.8,425.4 C144.4,429.4 150,431.4 155,429.6 M141.2,427.2 C143.8,431.2 149.4,433.2 154.6,431.4 M140.6,429 C143.2,433 148.8,435 154.2,433.2 M140.2,430.6 C142.8,434.6 148.4,436.4 154,434.8" fill="none" stroke="#111" stroke-width="0.55" stroke-linejoin="round" stroke-linecap="round" />
<ellipse cx="153.4" cy="415.4" rx="12.9" ry="6.5" fill="#fff" stroke="#111" stroke-width="1.05" transform="rotate(20 153.4 415.4)"/>
<path d="M140.9,411.4 L140.9,415.4 M165.8,415.8 L165.8,419.6" fill="none" stroke="#111" stroke-width="0.9" stroke-linejoin="round" stroke-linecap="round" />
<ellipse cx="153.4" cy="411.7" rx="12.9" ry="6.5" fill="#fff" stroke="#111" stroke-width="1.05" transform="rotate(20 153.4 411.7)"/>
<path d="M145.2,418.6 L145.2,422 M157,421.4 L156.8,425.4 M163.4,417.6 L163.7,421.2" fill="none" stroke="#111" stroke-width="0.6" stroke-linejoin="round" stroke-linecap="round" />
<path d="M151,394.9 L146.9,408.8 C149,413 158,416.8 163.3,412.1 L167.4,400.2Z" fill="#fff" stroke="#111" stroke-width="1.05" stroke-linejoin="round" stroke-linecap="round" />
<path d="M151.0,394.9 L160.8,393.0 L167.4,400.2 L158.0,402.7Z" fill="#fff" stroke="#111" stroke-width="1.05" stroke-linejoin="round" stroke-linecap="round" />
<path d="M158,402.7 L153.4,414.6" fill="none" stroke="#111" stroke-width="1.05" stroke-linejoin="round" stroke-linecap="round" />
<path d="M153.6,396.2 L159.8,395 L164.4,400 L158.6,401.4Z" fill="none" stroke="#111" stroke-width="0.55" stroke-linejoin="round" stroke-linecap="round" />
<path d="M156.2,396.6 L157.6,400.6 M158.6,396 L160.4,400.4 M157.6,398 L159.6,397.4" fill="none" stroke="#111" stroke-width="0.5" stroke-linejoin="round" stroke-linecap="round" />
<path d="M149.6,402.4 L147.4,409.4 M151.8,403.4 L149.4,410.4 M155.4,405.6 L152.4,413.6" fill="none" stroke="#111" stroke-width="0.5" stroke-linejoin="round" stroke-linecap="round" />
<path d="M229.5,405 L229.9,412.8 C230.6,414.4 233,414.4 233.7,412.8 L233.6,404Z" fill="#fff" stroke="#111" stroke-width="1.05" stroke-linejoin="round" stroke-linecap="round" />
<path d="M213.4,402.9 L219,397.3 L224,393.6 L238.6,391.7 C239.6,393.6 239.8,396.6 239.3,400 L234.4,406.3 L219,411.9 C215.6,412.2 213.8,411 214.1,409.8Z" fill="#fff" stroke="#111" stroke-width="1.05" stroke-linejoin="round" stroke-linecap="round" />
<path d="M213.4,402.9 C214.4,405 216.4,405.8 219,405.4 L234.4,400.4 L238.6,394 M234.4,400.4 L234.4,406.3" fill="none" stroke="#111" stroke-width="0.65" stroke-linejoin="round" stroke-linecap="round" />
<ellipse cx="219.2" cy="402.3" rx="2.7" ry="1.7" fill="#fff" stroke="#111" stroke-width="1.05" transform="rotate(-12 219.2 402.3)"/>
<path d="M221.1,393.8 L226,391 L232,392.8 L238.6,391.7 M224.6,396.4 L231,394 L235,396 L229,398.6Z M229,398.6 L229.2,401 M231,394 L231.2,396" fill="none" stroke="#111" stroke-width="0.6" stroke-linejoin="round" stroke-linecap="round" />
<path d="M210.6,384.7 L211.3,391 L221.1,394.2 L230.9,388.4 L231.6,385.4Z" fill="#fff" stroke="#111" stroke-width="1.05" stroke-linejoin="round" stroke-linecap="round" />
<path d="M210.6,384.7 L219.0,378.7 L231.6,385.4 L221.8,389.8Z" fill="#fff" stroke="#111" stroke-width="1.05" stroke-linejoin="round" stroke-linecap="round" />
<path d="M221.8,389.8 L221.1,394.2 M213.6,382.6 L214.2,392 M216.4,380.6 L217,393" fill="none" stroke="#111" stroke-width="0.6" stroke-linejoin="round" stroke-linecap="round" />
<path d="M224.6,388.6 L224.2,392.4 M227.6,387.2 L227.2,390.6" fill="none" stroke="#111" stroke-width="0.5" stroke-linejoin="round" stroke-linecap="round" />
<path d="M258.4,400.5 L258.6,404.6 C259.3,405.8 261.2,405.8 261.8,404.6 L261.6,400Z" fill="#fff" stroke="#111" stroke-width="1.05" stroke-linejoin="round" stroke-linecap="round" />
<path d="M246.2,382 C245.6,386 246.5,389.5 248.4,391.4 L254.1,396.4 L259.5,400.6 C262.5,401 266.5,399 268.2,397 L272,391 L264,381 L256,379.6Z" fill="#fff" stroke="#111" stroke-width="1.05" stroke-linejoin="round" stroke-linecap="round" />
<path d="M254.1,396.4 L257,391.4 L266.6,387 L271.5,392 M257,391.4 L253.5,386.5" fill="none" stroke="#111" stroke-width="0.55" stroke-linejoin="round" stroke-linecap="round" />
<ellipse cx="260.8" cy="392.6" rx="1" ry="0.8" fill="#222" stroke="#111" stroke-width="1.05" transform="rotate(0 260.8 392.6)"/>
<ellipse cx="251.1" cy="382.2" rx="4.6" ry="4.2" fill="#fff" stroke="#111" stroke-width="1.05" transform="rotate(0 251.1 382.2)"/>
<ellipse cx="251.3" cy="381.8" rx="2.5" ry="2.2" fill="#fff" stroke="#111" stroke-width="1.05" transform="rotate(0 251.3 381.8)"/>
<path d="M264,380.3 L274.8,375 L283.5,384.3 L282.8,388.4 L271.8,393.4 L264.2,385.3Z" fill="#fff" stroke="#111" stroke-width="1.05" stroke-linejoin="round" stroke-linecap="round" />
<path d="M264,380.3 L271.6,388.4 L282.8,383.4 M271.6,388.4 L271.8,393.4" fill="none" stroke="#111" stroke-width="0.55" stroke-linejoin="round" stroke-linecap="round" />
<path d="M268.8,380.2 L275.0,377.3 L280.0,382.6 L273.6,385.5Z" fill="#ddd" stroke="#111" stroke-width="0.5" stroke-linejoin="round" stroke-linecap="round" />
<path d="M477,489.8 L485.9,484.4 L491.3,488.8 L491.8,494.7 L482.4,500.2Z" fill="#fff" stroke="#111" stroke-width="1.05" stroke-linejoin="round" stroke-linecap="round" />
<path d="M479.4,488.6 L485.4,498.4 M486.2,485.2 L491.6,491.6" fill="none" stroke="#111" stroke-width="0.6" stroke-linejoin="round" stroke-linecap="round" />
<path d="M480.6,491 L488.4,486.4 M481.8,493 L489.8,488.2 M483,495 L491,490.2 M484.2,497 L491.6,492.6" fill="none" stroke="#111" stroke-width="0.5" stroke-linejoin="round" stroke-linecap="round" />
<path d="M483.8,485.8 L484.2,483.6 L486.6,482.6 L487.6,485" fill="none" stroke="#111" stroke-width="0.6" stroke-linejoin="round" stroke-linecap="round" />
<path d="M462.7,494.2 L470.6,489.3 L477,491.3 L481.5,497.7 L481,504.6 L473.6,510.5 L468.6,509 L462.2,500.7Z" fill="#fff" stroke="#111" stroke-width="1.05" stroke-linejoin="round" stroke-linecap="round" />
<path d="M470.6,489.3 L474.6,493 L476.2,500.6 L473.6,510.5 M474.6,493 L477,491.3 M476.2,500.6 L481.5,499" fill="none" stroke="#111" stroke-width="0.6" stroke-linejoin="round" stroke-linecap="round" />
<path d="M476.6,491.4 C479.4,494 481,499 480.4,504.6" fill="none" stroke="#111" stroke-width="0.6" stroke-linejoin="round" stroke-linecap="round" />
<ellipse cx="468.2" cy="501.2" rx="4.6" ry="8.4" fill="#fff" stroke="#111" stroke-width="1.05" transform="rotate(-24 468.2 501.2)"/>
<path d="M466.7,497.2 L459.7,500.7 C458.4,503 459.6,507.6 463.2,509.6 L472,506.4 C472.6,502.6 470.4,498.4 466.7,497.2Z" fill="#fff" stroke="#111" stroke-width="1.05" stroke-linejoin="round" stroke-linecap="round" />
<path d="M464.6,498.2 C463.2,501 464.6,505.8 468,508 M462.8,499.2 C461.4,502 462.8,506.6 466,508.8 M461.2,500 C459.8,502.6 461,507.2 464.4,509.4 M466.4,497.4 C465,500.4 466.6,505 469.8,507.2" fill="none" stroke="#111" stroke-width="0.55" stroke-linejoin="round" stroke-linecap="round" />
<path d="M459.6,503.4 L451.4,507.6 C449.4,509 450,512.8 452.8,513.4 L461.4,509Z" fill="#fff" stroke="#111" stroke-width="1.05" stroke-linejoin="round" stroke-linecap="round" />
<path d="M458.5,590.4 L452.6,587.6 L452.6,603.5 L455.5,608 L455.5,632.6 L459.5,634.8Z" fill="#fff" stroke="#111" stroke-width="1.05" stroke-linejoin="round" stroke-linecap="round" />
<path d="M458.5,590.4 L497,576.6 L498.9,621 L459.5,634.8Z" fill="#fff" stroke="#111" stroke-width="1.05" stroke-linejoin="round" stroke-linecap="round" />
<path d="M452.6,587.6 L458.4,584.4 M497,576.6 L493.6,574.4" fill="none" stroke="#111" stroke-width="0.7" stroke-linejoin="round" stroke-linecap="round" />
<path d="M460.8,577.4 L461,574.6 L465.8,573.2 L466.2,575.6" fill="none" stroke="#111" stroke-width="0.6" stroke-linejoin="round" stroke-linecap="round" />
<path d="M463.2,574 L463.4,576.4" fill="none" stroke="#111" stroke-width="0.5" stroke-linejoin="round" stroke-linecap="round" />
<path d="M458.3,589.4 L458.3,579.2 L460.6,576.2 C461.4,575.4 462,575.4 463,575.2 L468.6,574.2 C470,574.2 470.6,574.8 471.2,575.6 L472.6,578.6 L472.6,585" fill="#fff" stroke="#111" stroke-width="1.05" stroke-linejoin="round" stroke-linecap="round" />
<path d="M458.6,580.6 C460,581 461,581 462.4,580.6 L472.4,578" fill="none" stroke="#111" stroke-width="0.6" stroke-linejoin="round" stroke-linecap="round" />
<path d="M479.1,569.6 L479.3,567.4 L485.3,565.8 L485.7,568.2" fill="none" stroke="#111" stroke-width="0.6" stroke-linejoin="round" stroke-linecap="round" />
<path d="M481.4,567 L481.6,569.2 M483.4,566.4 L483.6,568.8" fill="none" stroke="#111" stroke-width="0.5" stroke-linejoin="round" stroke-linecap="round" />
<path d="M475.1,583.4 L475.1,573.8 L477.6,570.4 C478.4,569.6 479,569.6 480,569.4 L490.6,567.6 C492,567.6 492.6,568.2 493.2,569 L493.9,571 L493.9,577.4" fill="#fff" stroke="#111" stroke-width="1.05" stroke-linejoin="round" stroke-linecap="round" />
<path d="M475.4,575.2 C476.8,575.6 477.8,575.6 479.2,575.2 L493.7,571.2" fill="none" stroke="#111" stroke-width="0.6" stroke-linejoin="round" stroke-linecap="round" />
<path d="M472.6,584.8 L475.1,583.8" fill="none" stroke="#111" stroke-width="0.6" stroke-linejoin="round" stroke-linecap="round" />
<path d="M422.2,679.5 L422.4,687.2 L428,690.4 L440.4,684.5 L440,676Z" fill="#fff" stroke="#111" stroke-width="1.05" stroke-linejoin="round" stroke-linecap="round" />
<path d="M428,690.4 L427.8,683 M432,688.6 L431.8,681.6 M436.2,686.6 L436,679.8" fill="none" stroke="#111" stroke-width="0.5" stroke-linejoin="round" stroke-linecap="round" />
<path d="M430.1,627.2 C427.5,627 426,627.5 424,628.6 L409,637 C407,638.4 406.4,640 406.4,642.4 L406.4,678 L422.2,686.8 L446.9,672 L446.9,639 C446.9,636.5 446,635.4 444,634.2 L433,628 C432,627.5 431,627.3 430.1,627.2Z" fill="#fff" stroke="#111" stroke-width="1.05" stroke-linejoin="round" stroke-linecap="round" />
<path d="M407.4,639.6 L420,646.6 C421.6,647.6 422.2,649.4 422.2,651.4 L422.2,686.8 M420.6,647 C424,647.4 426,646.8 428,645.6 L446,635.6" fill="none" stroke="#111" stroke-width="0.7" stroke-linejoin="round" stroke-linecap="round" />
<path d="M410.4,681 L410.4,674 C410.6,672.4 412,672 413.2,672.6 L415.4,673.8 C416.4,674.6 416.7,675.4 416.7,676.6 L416.7,683.5" fill="none" stroke="#111" stroke-width="0.7" stroke-linejoin="round" stroke-linecap="round" />
<path d="M412,680.6 L412,675.6 L415,677.2 L415,682" fill="none" stroke="#111" stroke-width="0.5" stroke-linejoin="round" stroke-linecap="round" />
<path d="M355.3,707 L355.5,734.2" fill="none" stroke="#111" stroke-width="4.4" stroke-linecap="butt" stroke-linejoin="round" />
<path d="M355.3,707 L355.5,734.2" fill="none" stroke="#fff" stroke-width="3.0" stroke-linecap="butt" stroke-linejoin="round" />
<path d="M353.2,734.2 L357.8,734.2" fill="none" stroke="#111" stroke-width="0.8" stroke-linejoin="round" stroke-linecap="round" />
<path d="M355.6,738 L355.8,755 C355.8,759.5 353.6,761.2 350.5,760 L341.5,756" fill="none" stroke="#111" stroke-width="4.4" stroke-linecap="butt" stroke-linejoin="round" />
<path d="M355.6,738 L355.8,755 C355.8,759.5 353.6,761.2 350.5,760 L341.5,756" fill="none" stroke="#fff" stroke-width="3.0" stroke-linecap="butt" stroke-linejoin="round" />
<path d="M353.4,738 L357.8,738" fill="none" stroke="#111" stroke-width="0.8" stroke-linejoin="round" stroke-linecap="round" />
<path d="M352.2,707 L355.2,714.5 L358.6,707" fill="none" stroke="#111" stroke-width="0.7" stroke-linejoin="round" stroke-linecap="round" />
<path d="M354,711.4 L355.3,708.8 L356.8,711.4" fill="none" stroke="#111" stroke-width="0.5" stroke-linejoin="round" stroke-linecap="round" />
<path d="M351.4,696 L351.9,705.4 C352.4,707.2 353.6,707.8 355.6,707.8 C357.8,707.8 359.2,707.2 359.8,705.4 L360.6,696Z" fill="#fff" stroke="#111" stroke-width="1.05" stroke-linejoin="round" stroke-linecap="round" />
<path d="M353.8,698.4 L354,705.6 M355.9,698.4 L355.9,705.6 M358,698.4 L357.8,705.6" fill="none" stroke="#111" stroke-width="0.55" stroke-linejoin="round" stroke-linecap="round" />
<path d="M351.4,683 L353.6,678.8 L358.4,678.8 L360.8,683Z" fill="#777" stroke="#111" stroke-width="0.8" stroke-linejoin="round"/>
<rect x="349.7" y="682.6" width="12.6" height="14" rx="1.3" fill="#fff" stroke="#111" stroke-width="0.95"/>
<path d="M352.4,684.4 L352.4,694.8 M359.8,684.4 L359.8,694.8" fill="none" stroke="#111" stroke-width="0.5" stroke-linejoin="round" stroke-linecap="round" />
<path d="M315.6,768 L315.6,786 C318,790.8 333,790.8 335.9,786 L335.9,764Z" fill="#fff" stroke="#111" stroke-width="1.05" stroke-linejoin="round" stroke-linecap="round" />
<path d="M302.4,759.4 C303.5,756 306.5,754.6 310,754.2 L327,752 L341.5,757.5 C343,759 342.6,761 341.5,762 L332,767.6 L312,772.4 C306,773 302.8,770.5 302.6,767.4Z" fill="#fff" stroke="#111" stroke-width="1.05" stroke-linejoin="round" stroke-linecap="round" />
<path d="M302.6,761.4 C303.5,764.6 307,766.4 312,766 L331,761.4 L341.8,758.6 M315.4,770.8 C321,772.6 331,770 336,765.4" fill="none" stroke="#111" stroke-width="0.6" stroke-linejoin="round" stroke-linecap="round" />
<ellipse cx="310.3" cy="760.4" rx="3.3" ry="2.2" fill="#fff" stroke="#111" stroke-width="1.05" transform="rotate(-8 310.3 760.4)"/>
<ellipse cx="310.3" cy="760.4" rx="1.3" ry="0.9" fill="#fff" stroke="#111" stroke-width="1.05" transform="rotate(-8 310.3 760.4)"/>
<path d="M311.6,744.7 L311.6,750.8 L327.4,759.6 L341.2,752.2 L341.2,746.6Z" fill="#fff" stroke="#111" stroke-width="1.05" stroke-linejoin="round" stroke-linecap="round" />
<path d="M311.6,744.7 L325.5,737.4 L341.2,746.6 L327.4,754.5Z" fill="#e4e4e4" stroke="#111" stroke-width="1.05" stroke-linejoin="round" stroke-linecap="round" />
<path d="M327.4,754.5 L327.4,759.6" fill="none" stroke="#111" stroke-width="0.6" stroke-linejoin="round" stroke-linecap="round" />
<path d="M315.3,744.9 L327.5,738.5 M317.2,745.9 L329.4,739.5 M319.1,747.0 L331.3,740.6 M321.0,748.0 L333.2,741.6 M322.9,749.1 L335.1,742.7 M324.8,750.2 L337.0,743.8 M326.7,751.2 L338.9,744.8" fill="none" stroke="#111" stroke-width="0.35" stroke-linejoin="round" stroke-linecap="round" />
<path d="M329.5,755.6 L337.2,751.4 L340.2,753.4 L340.4,758.0 L333.0,762.2 L329.8,760.4Z" fill="#fff" stroke="#111" stroke-width="0.6" stroke-linejoin="round" stroke-linecap="round" />
<ellipse cx="338.2" cy="757.6" rx="2.4" ry="1.9" fill="#ccc" stroke="#111" stroke-width="0.6" transform="rotate(0 338.2 757.6)"/>
<path d="M252.3,695 L252.4,729.8" fill="none" stroke="#111" stroke-width="3.8" stroke-linecap="butt" stroke-linejoin="round" />
<path d="M252.3,695 L252.4,729.8" fill="none" stroke="#fff" stroke-width="2.4" stroke-linecap="butt" stroke-linejoin="round" />
<path d="M250.4,729.8 L254.4,729.8" fill="none" stroke="#111" stroke-width="0.8" stroke-linejoin="round" stroke-linecap="round" />
<path d="M252.5,732.2 C252.5,752 246,763 234.6,771.4" fill="none" stroke="#111" stroke-width="3.8" stroke-linecap="butt" stroke-linejoin="round" />
<path d="M252.5,732.2 C252.5,752 246,763 234.6,771.4" fill="none" stroke="#fff" stroke-width="2.4" stroke-linecap="butt" stroke-linejoin="round" />
<path d="M250.5,732.2 L254.5,732.2" fill="none" stroke="#111" stroke-width="0.8" stroke-linejoin="round" stroke-linecap="round" />
<path d="M247.5,682.4 L252.6,679.0 L257.0,681.2 L257.0,693.2 L252.0,696.0 L247.6,693.6Z" fill="#fff" stroke="#111" stroke-width="1.05" stroke-linejoin="round" stroke-linecap="round" />
<path d="M247.5,682.4 L252,684.8 L257,681.2 M252,684.8 L252,696 M247.6,688.4 L252,690.6 L257,687.6" fill="none" stroke="#111" stroke-width="0.6" stroke-linejoin="round" stroke-linecap="round" />
<path d="M212.2,774.2 L228.6,768.2 L234.9,772.2 L234.9,776.4 L221.2,784.6 L212.2,780.1Z" fill="#fff" stroke="#111" stroke-width="1.05" stroke-linejoin="round" stroke-linecap="round" />
<path d="M212.2,774.2 L221,778.6 L234.9,772.2 M221,778.6 L221.2,784.6" fill="none" stroke="#111" stroke-width="0.6" stroke-linejoin="round" stroke-linecap="round" />
<path d="M201.6,765.6 L207.4,769 C209,770.2 208.6,772.4 206.8,772.6 L200.6,770Z" fill="#fff" stroke="#111" stroke-width="1.05" stroke-linejoin="round" stroke-linecap="round" />
<path d="M197.4,762.4 L202,764.8 L200.6,770.8 L196,768.6Z" fill="#fff" stroke="#111" stroke-width="1.05" stroke-linejoin="round" stroke-linecap="round" />
<path d="M178.6,752 C179.4,750.6 181,750.4 182.4,751 L192.6,756.4 L190,763.8 L179.6,758.4 C177.8,757 177.6,753.8 178.6,752Z" fill="#fff" stroke="#111" stroke-width="1.05" stroke-linejoin="round" stroke-linecap="round" />
<path d="M181.4,751 L179.6,757.6 M183.6,752 L181.6,759.4 M185.8,753.2 L183.8,760.6 M188,754.4 L186,761.8 M190.2,755.6 L188.2,763" fill="none" stroke="#111" stroke-width="0.5" stroke-linejoin="round" stroke-linecap="round" />
<path d="M188.6,757.6 L193.6,755.6 L199,758 L201.6,764 L200.4,770 L195.6,772.2 L190,769.6 L187.4,763.6Z" fill="#fff" stroke="#111" stroke-width="1.05" stroke-linejoin="round" stroke-linecap="round" />
<ellipse cx="194.8" cy="763.8" rx="4.0" ry="6.2" fill="#fff" stroke="#111" stroke-width="0.7" transform="rotate(-26 194.8 763.8)"/>
<ellipse cx="195.2" cy="764" rx="2.6" ry="4.2" fill="#fff" stroke="#111" stroke-width="0.5" transform="rotate(-26 195.2 764)"/>
<path d="M193.6,755.6 L195.4,758 M201.6,764 L199.4,765 M195.6,772.2 L194.6,770" fill="none" stroke="#111" stroke-width="0.5" stroke-linejoin="round" stroke-linecap="round" />
<path d="M163,678.5 C166,690 165.6,702 161.6,711 C158.6,717.4 152,722.4 144.6,725" fill="none" stroke="#111" stroke-width="2.0" stroke-linejoin="round" stroke-linecap="round" />
<path d="M163,678.5 C166,690 165.6,702 161.6,711 C158.6,717.4 152,722.4 144.6,725" fill="none" stroke="#fff" stroke-width="0.8"/>
<path d="M127.4,719.6 L127.4,724 C129,727.6 141,727.8 144,723.4 L144.2,719Z" fill="#fff" stroke="#111" stroke-width="1.05" stroke-linejoin="round" stroke-linecap="round" />
<ellipse cx="144.6" cy="724.2" rx="1.8" ry="1.4" fill="#fff" stroke="#111" stroke-width="1.05" transform="rotate(0 144.6 724.2)"/>
<path d="M115.6,716.6 L128.4,706.6 L150,701.4 C152.6,701.4 153.6,702.8 153.2,704.6 L142.2,717.6 L126,725.6 C122,726.6 116,724.6 115.6,721.6Z" fill="#fff" stroke="#111" stroke-width="1.05" stroke-linejoin="round" stroke-linecap="round" />
<path d="M115.6,716.8 C116.6,719.6 121,721.4 126,720.4 L142,713 L153,702.6" fill="none" stroke="#111" stroke-width="0.6" stroke-linejoin="round" stroke-linecap="round" />
<ellipse cx="122.6" cy="717.8" rx="2.6" ry="1.5" fill="#fff" stroke="#111" stroke-width="1.05" transform="rotate(-12 122.6 717.8)"/>
<ellipse cx="147.2" cy="704.3" rx="2.2" ry="1.3" fill="#fff" stroke="#111" stroke-width="1.05" transform="rotate(-18 147.2 704.3)"/>
<path d="M124.5,686.4 L124.5,706.6 C127,711.4 142,711.4 144.6,706.6 L144.6,686.4Z" fill="#fff" stroke="#111" stroke-width="1.05" stroke-linejoin="round" stroke-linecap="round" />
<path d="M126.4,708 C126,712 128,714.4 134.5,714.6 C141,714.4 143,712 142.8,708" fill="none" stroke="#111" stroke-width="0.6" stroke-linejoin="round" stroke-linecap="round" />
<ellipse cx="134.5" cy="686.4" rx="10.05" ry="4.6" fill="#fff" stroke="#111" stroke-width="1.05" transform="rotate(0 134.5 686.4)"/>
<ellipse cx="134.5" cy="687.2" rx="8" ry="3.4" fill="#fff" stroke="#111" stroke-width="0.5" transform="rotate(0 134.5 687.2)"/>
<path d="M127.6,690.6 L127.6,706.6 M131,691.6 L131,709 M133.6,687 L133.6,709.8 M136,687 L136,709.8 M140.6,690.8 L140.6,707.6" fill="none" stroke="#111" stroke-width="0.5" stroke-linejoin="round" stroke-linecap="round" />
<ellipse cx="134.8" cy="686.6" rx="1.6" ry="1.2" fill="#fff" stroke="#111" stroke-width="0.5" transform="rotate(0 134.8 686.6)"/>
<path d="M146.2,604 L146.4,618 C147,621 150,623.6 153.6,623.2 C156,622.6 157,620.6 157,618 L157.6,590" fill="#fff" stroke="#111" stroke-width="1.05" stroke-linejoin="round" stroke-linecap="round" />
<ellipse cx="151.2" cy="616" rx="1.3" ry="1.9" fill="#fff" stroke="#111" stroke-width="1.05" transform="rotate(-20 151.2 616)"/>
<path d="M143.6,564.6 C151,565.4 157.6,573 158.6,583 C159,590 158,597 155.6,602.6 L146,604Z" fill="#fff" stroke="#111" stroke-width="1.05" stroke-linejoin="round" stroke-linecap="round" />
<path d="M146.6,566 C152.6,568.6 156.6,576 156.8,585" fill="none" stroke="#111" stroke-width="0.6" stroke-linejoin="round" stroke-linecap="round" />
<ellipse cx="138.2" cy="585.6" rx="16.6" ry="23" fill="#fff" stroke="#111" stroke-width="1.05" transform="rotate(-25 138.2 585.6)"/>
<ellipse cx="137.2" cy="585.8" rx="15.4" ry="21.6" fill="#fff" stroke="#111" stroke-width="0.6" transform="rotate(-25 137.2 585.8)"/>
<ellipse cx="135.6" cy="586.4" rx="13.6" ry="19.6" fill="#fff" stroke="#111" stroke-width="0.5" transform="rotate(-25 135.6 586.4)"/>
<ellipse cx="132.4" cy="588.4" rx="3.7" ry="4.1" fill="#fff" stroke="#111" stroke-width="1.05" transform="rotate(-30 132.4 588.4)"/>
<ellipse cx="131.6" cy="588" rx="2.2" ry="2.6" fill="#fff" stroke="#111" stroke-width="0.6" transform="rotate(-30 131.6 588)"/>
<path d="M149,493 L160.6,499.4 C163,500.6 163.6,503.2 161.4,504.6 C160.4,505.2 159.4,505 158.4,504.6 L147.6,499.4Z" fill="#fff" stroke="#111" stroke-width="1.05" stroke-linejoin="round" stroke-linecap="round" />
<path d="M130.6,477.6 L145.6,484.6 L140.6,496.6 L127.4,489.4 C126,486.4 127.6,480.4 130.6,477.6Z" fill="#fff" stroke="#111" stroke-width="1.05" stroke-linejoin="round" stroke-linecap="round" />
<path d="M130.6,477.6 C133.4,479.4 134.2,483 132.6,487 C131.4,489.6 129.4,490.4 127.4,489.4 M133.8,481.2 L145,486.4 M134,483.6 L144.2,488.6 M133.4,486 L143.2,490.8 M132,488.4 L142.2,493.4 M130.4,490.4 L141.2,495.4" fill="none" stroke="#111" stroke-width="0.55" stroke-linejoin="round" stroke-linecap="round" />
<path d="M156.4,469.6 C159,468.6 162.4,469.6 163,472.6 C163.4,475.4 162,478.4 160,480.4 L155.6,487.6 L156.4,493 C155.6,499.4 150.6,503.6 146,503 C141.6,501.8 140.6,496.6 141.6,492 C142.6,487.6 146,484.6 149.6,483.6 L153.6,474.4 C154.4,472 155,470.4 156.4,469.6Z" fill="#fff" stroke="#111" stroke-width="1.05" stroke-linejoin="round" stroke-linecap="round" />
<path d="M158.6,470 C156.4,473 156.4,476 157.4,478.4 M143.6,492.6 C144.6,488.6 147.6,486 150.6,485" fill="none" stroke="#111" stroke-width="0.5" stroke-linejoin="round" stroke-linecap="round" />
<ellipse cx="159.4" cy="474.4" rx="1.7" ry="2.3" fill="#fff" stroke="#111" stroke-width="0.6" transform="rotate(25 159.4 474.4)"/>
<path d="M148.4,491.4 C149.6,489.6 152.4,489.6 153.6,491.4 C154.6,493.4 154,496.6 152.4,498.2 C150.6,499.4 148.4,498.6 147.8,496.6 C147.4,494.6 147.6,492.8 148.4,491.4Z" fill="#fff" stroke="#111" stroke-width="0.7" stroke-linejoin="round" stroke-linecap="round" />
</svg>
</body></html>
